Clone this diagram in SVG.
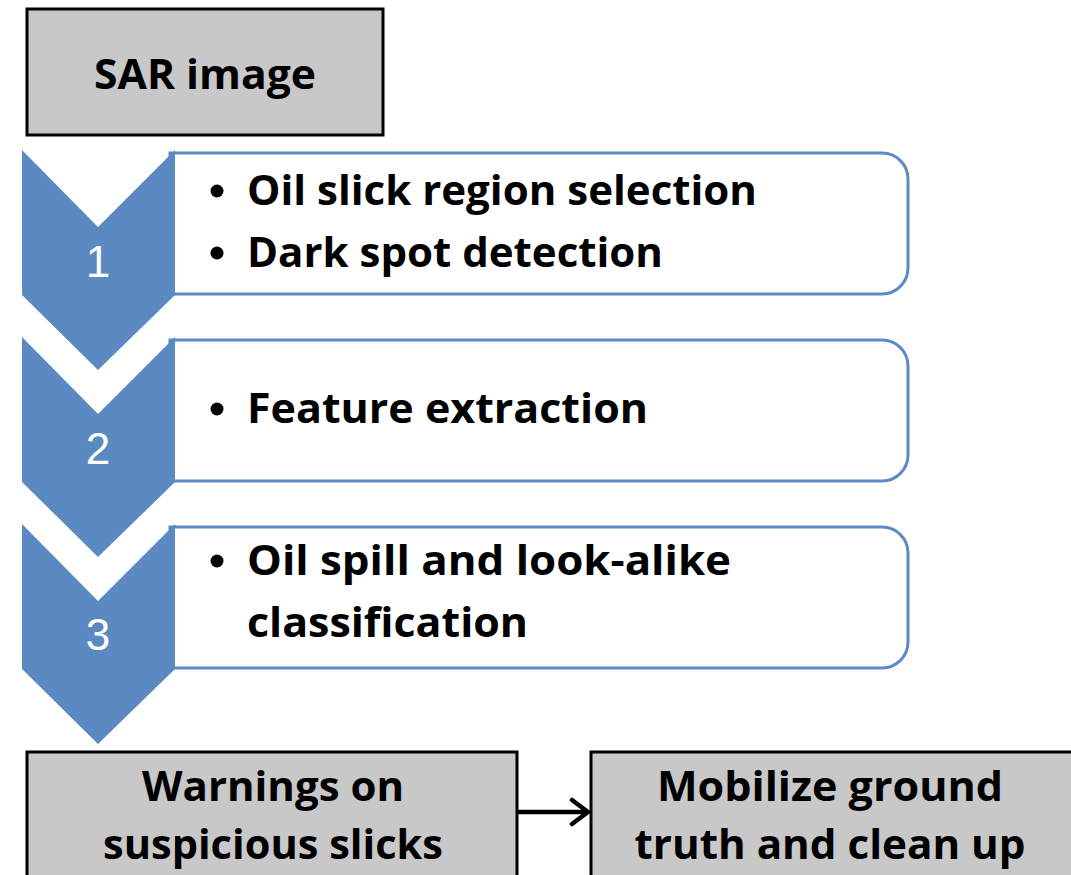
<svg xmlns="http://www.w3.org/2000/svg" width="1071" height="875" viewBox="0 0 1071 875">
<style>
.gray{fill:#c8c8c8;stroke:#000;stroke-width:3}
.step{fill:#fff;stroke:#5b8bc4;stroke-width:3}
.chev{fill:#5b8ac2}
.t{font-family:"Open Sans","Liberation Sans",sans-serif;font-weight:bold;font-size:41px;fill:#000}
.c{text-anchor:middle}
.num{font-family:"Liberation Sans",Arial,sans-serif;font-size:44px;fill:#fff;text-anchor:middle}
</style>
<defs>
<marker id="arr" viewBox="0 0 22 30" refX="19" refY="15" markerWidth="22" markerHeight="30" markerUnits="userSpaceOnUse" orient="auto">
<path d="M3,3 L19,15 L3,27" fill="none" stroke="#000" stroke-width="4.5" stroke-linecap="round" stroke-linejoin="round"/>
</marker>
</defs>
<rect width="1071" height="875" fill="#fff"/>
<g id="sar">
<rect class="gray" x="27" y="9" width="356" height="126"/>
<text class="t c" x="205" y="89" textLength="222" lengthAdjust="spacingAndGlyphs">SAR image</text>
</g>
<g id="step1">
<path class="step" d="M170,153 H882 A26,26 0 0 1 908,179 V268 A26,26 0 0 1 882,294 H170 Z"/>
<path class="chev" d="M22,150 L98,227 L175,150 L175,295 L98,370 L22,295 Z"/>
<text class="num" x="98" y="277">1</text>
<circle cx="217" cy="191" r="6.5"/>
<text class="t" x="247" y="205" textLength="510" lengthAdjust="spacingAndGlyphs">Oil slick region selection</text>
<circle cx="217" cy="253" r="6.5"/>
<text class="t" x="247" y="267" textLength="416" lengthAdjust="spacingAndGlyphs">Dark spot detection</text>
</g>
<g id="step2">
<path class="step" d="M170,340 H882 A26,26 0 0 1 908,366 V455 A26,26 0 0 1 882,481 H170 Z"/>
<path class="chev" d="M22,337 L98,414 L175,337 L175,482 L98,557 L22,482 Z"/>
<text class="num" x="98" y="464">2</text>
<circle cx="217" cy="409" r="6.5"/>
<text class="t" x="247" y="423" textLength="401" lengthAdjust="spacingAndGlyphs">Feature extraction</text>
</g>
<g id="step3">
<path class="step" d="M170,527 H882 A26,26 0 0 1 908,553 V642 A26,26 0 0 1 882,668 H170 Z"/>
<path class="chev" d="M22,524 L98,601 L175,524 L175,669 L98,744 L22,669 Z"/>
<text class="num" x="98" y="650">3</text>
<circle cx="217" cy="561" r="6.5"/>
<text class="t" x="247" y="575" textLength="484" lengthAdjust="spacingAndGlyphs">Oil spill and look-alike</text>
<text class="t" x="247" y="637" textLength="281" lengthAdjust="spacingAndGlyphs">classification</text>
</g>
<g id="warnings">
<rect class="gray" x="27" y="752" width="490" height="140"/>
<text class="t c" x="273" y="801" textLength="262" lengthAdjust="spacingAndGlyphs">Warnings on</text>
<text class="t c" x="273" y="859" textLength="340" lengthAdjust="spacingAndGlyphs">suspicious slicks</text>
</g>
<g id="mobilize">
<rect class="gray" x="591" y="752" width="500" height="140"/>
<text class="t c" x="830" y="801" textLength="346" lengthAdjust="spacingAndGlyphs">Mobilize ground</text>
<text class="t c" x="830" y="859" textLength="391" lengthAdjust="spacingAndGlyphs">truth and clean up</text>
</g>
<g id="connectors">
<line x1="517" y1="812" x2="588" y2="812" stroke="#000" stroke-width="4.5" marker-end="url(#arr)"/>
</g>
</svg>
